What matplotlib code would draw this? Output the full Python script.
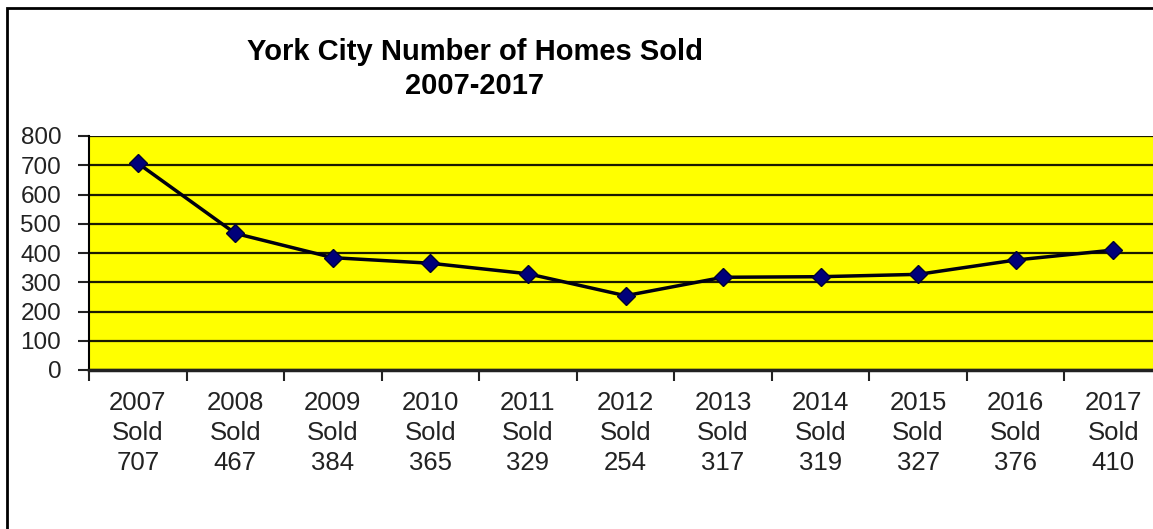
import matplotlib
matplotlib.use("Agg")
import matplotlib.pyplot as plt
from matplotlib.patches import Rectangle

plt.rcParams['font.family'] = ['Liberation Sans', 'DejaVu Sans']

years = ['2007', '2008', '2009', '2010', '2011', '2012', '2013', '2014', '2015', '2016', '2017']
sold = [707, 467, 384, 365, 329, 254, 317, 319, 327, 376, 410]
labels = [y + '\nSold\n' + str(v) for y, v in zip(years, sold)]

W, H = 1153, 529
fig = plt.figure(figsize=(W / 100, H / 100), dpi=100)
ax = fig.add_axes([89 / W, (H - 370) / H, (1162 - 89) / W, (370 - 136) / H])
ax.set_facecolor('#ffff00')

x = list(range(len(sold)))
ax.plot(x, sold, color='#000010', lw=2.5, marker='D', ms=9,
        mfc='#00007a', mec='#000033', mew=1, zorder=3, clip_on=False)

ax.set_xlim(-0.5, len(sold) - 0.5)
ax.set_ylim(0, 800)
ax.set_yticks(range(0, 801, 100))
ax.yaxis.grid(True, color='#1a1a00', lw=1.6)
ax.set_axisbelow(True)

ax.set_xticks(x)
ax.set_xticklabels(labels, fontsize=18.5, color='#222222', linespacing=1.33)
ax.set_xticks([i - 0.5 for i in range(len(sold) + 1)], minor=True)
ax.tick_params(axis='x', which='major', length=0, pad=15)
ax.tick_params(axis='x', which='minor', length=8, width=1.5, direction='out', color='#222222')
ax.tick_params(axis='y', length=8, width=1.5, direction='out', pad=12,
               labelsize=17.5, labelcolor='#222222', color='#222222')

for s in ['top', 'right']:
    ax.spines[s].set_visible(False)
ax.spines['left'].set_linewidth(1.5)
ax.spines['bottom'].set_linewidth(2.5)
ax.spines['bottom'].set_color('#222222')

fig.text(475 / W, 1 - 69 / H, 'York City Number of Homes Sold\n2007-2017',
         ha='center', va='center', fontsize=21, fontweight='bold', linespacing=1.3)

fig.add_artist(Rectangle((7 / W, -0.2), 1.5, 1.2 - 8 / H, transform=fig.transFigure,
                         fill=False, ec='black', lw=2, clip_on=False))

fig.savefig('out.png', dpi=100, facecolor='white')
